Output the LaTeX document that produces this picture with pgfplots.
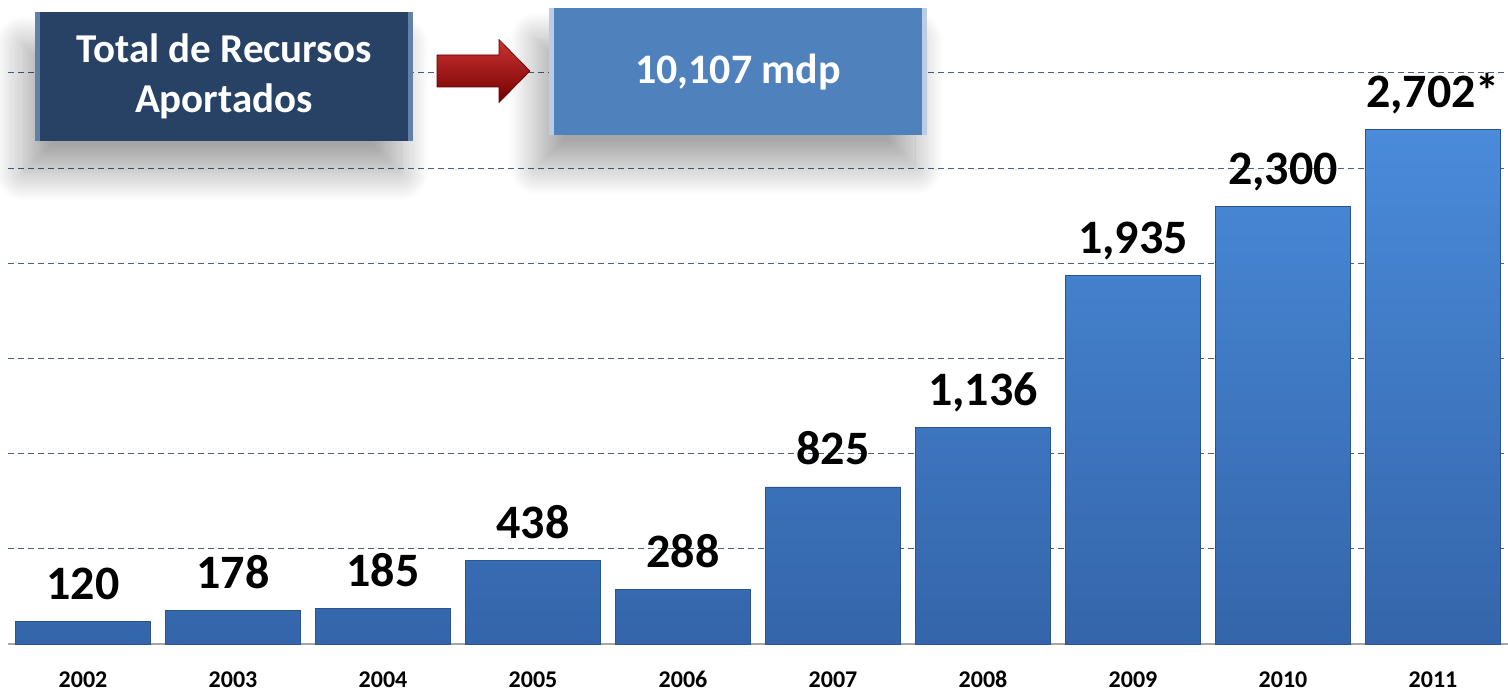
\documentclass[border=0pt]{standalone}
\usepackage{pgfplots}
\pgfplotsset{compat=1.18}
\usepackage{fontspec}
\setmainfont{Carlito}
\usetikzlibrary{shadows.blur}

\definecolor{barTop}{HTML}{4A8BDA}
\definecolor{barBot}{HTML}{3465AA}
\definecolor{barEdge}{HTML}{2B548E}
\definecolor{gridNavy}{HTML}{1F3864}
\definecolor{navyBox}{HTML}{284266}
\definecolor{blueBox}{HTML}{4F81BD}
\definecolor{arrowRed}{HTML}{C00000}

\tikzset{boxshadow/.style={blur shadow={shadow xshift=-6pt, shadow yshift=-16pt,
    shadow blur radius=14pt, shadow blur steps=30, shadow opacity=35}}}

\begin{document}
\begin{tikzpicture}
\path[use as bounding box] (-4pt,-24pt) rectangle (750pt,322pt);
\begin{axis}[
    scale only axis,
    width=750pt, height=322pt,
    xmin=-0.5, xmax=9.5,
    ymin=0, ymax=3383,
    ybar, bar width=0.9,
    xtick={0,...,9},
    xticklabels={2002,2003,2004,2005,2006,2007,2008,2009,2010,2011},
    xticklabel style={font=\bfseries\fontsize{12}{14}\selectfont, anchor=base, yshift=-21.5pt},
    ytick={500,1000,1500,2000,2500,3000},
    yticklabels={},
    ymajorgrids,
    grid style={densely dashed, gridNavy!80, line width=0.5pt},
    axis line style={draw=none},
    major tick length=0pt,
    nodes near coords,
    point meta=explicit symbolic,
    every node near coord/.append style={font=\bfseries\fontsize{24}{28}\selectfont, anchor=base, inner sep=0pt, yshift=11pt, black},
]
\draw[gray!70, line width=0.8pt] (axis cs:-0.5,0) -- (axis cs:9.5,0);
\addplot[draw=barEdge, line width=0.4pt, top color=barTop, bottom color=barBot] coordinates {
    (0,120) [120]
    (1,178) [178]
    (2,185) [185]
    (3,438) [438]
    (4,288) [288]
    (5,825) [825]
    (6,1136) [{1,136}]
    (7,1935) [{1,935}]
    (8,2300) [{2,300}]
    (9,2702) [{2,702*}]
};
\end{axis}

% boxes at top
\fill[navyBox, boxshadow] (13.5pt,251.5pt) rectangle (202.5pt,316pt);
\fill[blueBox!50!navyBox!80!white] (13.5pt,251.5pt) rectangle (16pt,316pt);
\fill[blueBox!50!navyBox!80!white] (200pt,251.5pt) rectangle (202.5pt,316pt);
\node[text=white, font=\bfseries\fontsize{20.5}{25}\selectfont, align=center] at (108pt,284pt) {Total de Recursos\\Aportados};

\fill[blueBox, boxshadow] (270.5pt,254.5pt) rectangle (459.5pt,318pt);
\fill[blueBox!40!white] (270.5pt,254.5pt) rectangle (273pt,318pt);
\fill[blueBox!40!white] (457pt,254.5pt) rectangle (459.5pt,318pt);
\node[text=white, font=\bfseries\fontsize{21}{25}\selectfont] at (365pt,286pt) {10,107 mdp};

\shade[top color=arrowRed!80!white, bottom color=arrowRed!60!black, draw=arrowRed!50!black, line width=0.3pt]
    (214.5pt,278.5pt) -- (214.5pt,294.5pt) -- (245.5pt,294.5pt) -- (245.5pt,302.25pt)
    -- (261pt,286.5pt) -- (245.5pt,270.75pt) -- (245.5pt,278.5pt) -- cycle;
\end{tikzpicture}
\end{document}
